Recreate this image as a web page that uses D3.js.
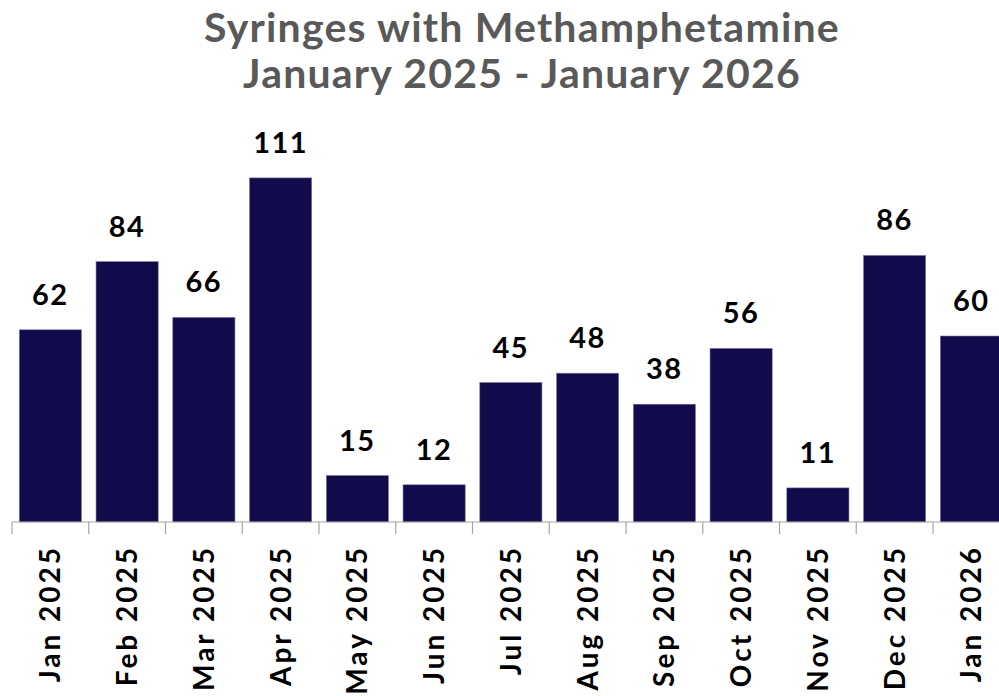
<!DOCTYPE html>
<html>
<head>
<meta charset="utf-8">
<script src="https://cdn.jsdelivr.net/npm/d3@7"></script>
<style>
  body { margin: 0; background: #fff; }
  svg { display: block; }
  text { font-family: "Lato", "DejaVu Sans", sans-serif; font-weight: bold; }
</style>
</head>
<body>
<div id="chart"></div>
<script>
const months = ["Jan 2025", "Feb 2025", "Mar 2025", "Apr 2025", "May 2025", "Jun 2025",
  "Jul 2025", "Aug 2025", "Sep 2025", "Oct 2025", "Nov 2025", "Dec 2025", "Jan 2026"];
const counts = [62, 84, 66, 111, 15, 12, 45, 48, 38, 56, 11, 86, 60];
const titleLines = ["Syringes with Methamphetamine", "January 2025 - January 2026"];

const width = 999, height = 696;
const baseY = 522;

const svg = d3.select("#chart")
  .append("svg")
  .attr("width", width)
  .attr("height", height);

// plot area runs past the right edge in the original, so the last bar is cut
const x = d3.scaleBand()
  .domain(months)
  .range([12, 12 + 76.75 * months.length])
  .paddingInner(0.19)
  .paddingOuter(0.095);

const y = d3.scaleLinear()
  .domain([0, 120])
  .range([baseY, baseY - 372]);

svg.selectAll(".title")
  .data(titleLines)
  .enter()
  .append("text")
  .attr("class", "title")
  .attr("x", 522)
  .attr("y", (d, i) => 42 + i * 46)
  .attr("text-anchor", "middle")
  .attr("fill", "#595959")
  .attr("font-size", 41)
  .attr("letter-spacing", 1.2)
  .text(d => d);

svg.selectAll(".bar")
  .data(counts)
  .enter()
  .append("rect")
  .attr("class", "bar")
  .attr("x", (d, i) => x(months[i]))
  .attr("y", d => y(d))
  .attr("width", x.bandwidth())
  .attr("height", d => baseY - y(d))
  .attr("fill", "#110b4b")
  .attr("stroke", "#7d7aa0")
  .attr("stroke-width", 0.6);

svg.selectAll(".val")
  .data(counts)
  .enter()
  .append("text")
  .attr("class", "val")
  .attr("x", (d, i) => x(months[i]) + x.bandwidth() / 2)
  .attr("y", d => y(d) - 25)
  .attr("text-anchor", "middle")
  .attr("font-size", 29)
  .attr("letter-spacing", 1.5)
  .attr("fill", "#000")
  .text(d => d);

// x axis: baseline + ticks between categories
const axis = svg.append("g");
axis.append("line")
  .attr("x1", 12).attr("x2", width)
  .attr("y1", baseY).attr("y2", baseY)
  .attr("stroke", "#a6a6a6")
  .attr("stroke-width", 1.2);

const step = x.step();
axis.selectAll(".tick")
  .data(months)
  .enter()
  .append("line")
  .attr("class", "tick")
  .attr("x1", d => x(d) - step * 0.095)
  .attr("x2", d => x(d) - step * 0.095)
  .attr("y1", baseY)
  .attr("y2", baseY + 12)
  .attr("stroke", "#a6a6a6")
  .attr("stroke-width", 1.2);

axis.selectAll(".lab")
  .data(months)
  .enter()
  .append("text")
  .attr("class", "lab")
  .attr("transform", d => `translate(${x(d) + x.bandwidth() / 2 + 10},${baseY + 23}) rotate(-90)`)
  .attr("text-anchor", "end")
  .attr("font-size", 28)
  .attr("letter-spacing", 3)
  .attr("fill", "#000")
  .text(d => d);
</script>
</body>
</html>
